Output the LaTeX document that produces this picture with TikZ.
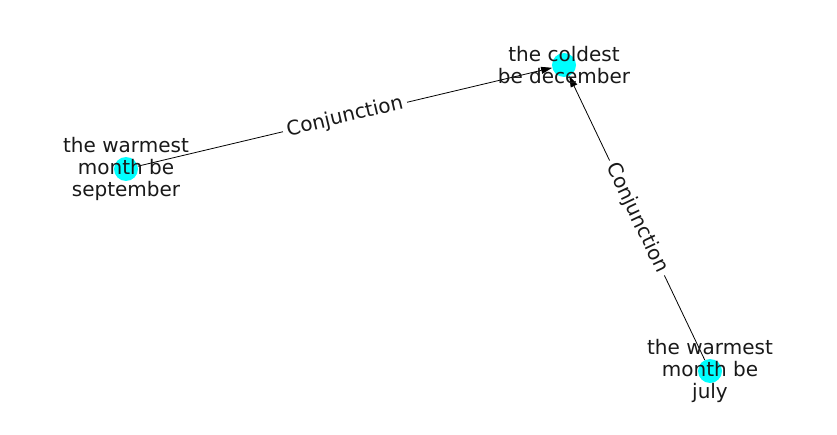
\documentclass[tikz,border=0pt]{standalone}
\usepackage{fontspec}
\setmainfont{DejaVu Sans}
\usetikzlibrary{arrows.meta}
\definecolor{nodecyan}{RGB}{0,255,255}

\begin{document}
\begin{tikzpicture}[x=1pt,y=1pt,
		dot/.style={circle,fill=nodecyan,minimum size=24pt,inner sep=0pt},
		word/.style={align=center,font=\fontsize{20}{22}\selectfont,text=black!90},
		rel/.style={draw=black,line width=0.8pt,-{Triangle[length=11pt,width=7pt]}},
		tag/.style={midway,sloped,fill=white,inner sep=4pt,font=\fontsize{20}{22}\selectfont,text=black!90}]
	\useasboundingbox (0,0) rectangle (837,434);
	% nodes
	\node[dot] (cold) at (564,369) {};
	\node[dot] (sept) at (126,265) {};
	\node[dot] (july) at (710,63) {};
	% edges
	\draw[rel] (sept) -- (cold) node[tag] (t1) {Conjunction};
	\draw[rel] (july) -- (cold) node[tag] (t2) {Conjunction};
	% labels
	\node[word] (cold-l) at (cold) {the coldest\\be december};
	\node[word] (sept-l) at (sept) {the warmest\\month be\\september};
	\node[word] (july-l) at (july) {the warmest\\month be\\july};
\end{tikzpicture}
\end{document}
